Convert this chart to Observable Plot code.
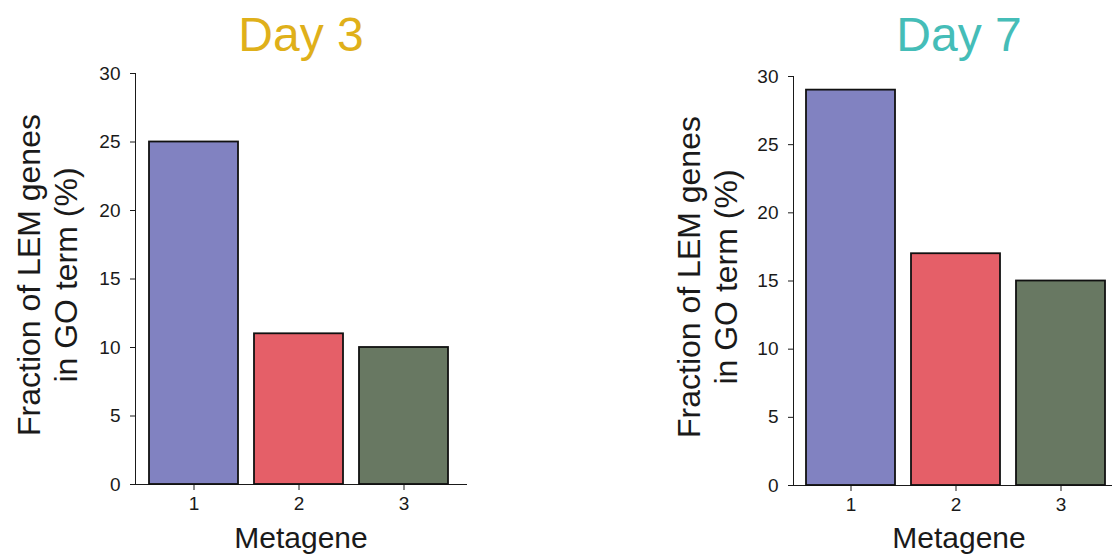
<!DOCTYPE html>
<html><head><meta charset="utf-8">
<script src="https://cdn.jsdelivr.net/npm/d3@7"></script>
<script src="https://cdn.jsdelivr.net/npm/@observablehq/plot@0.6"></script>
<style>
html,body{margin:0;padding:0;background:#fff;overflow:hidden;}
#wrap{position:relative;width:1112px;height:556px;overflow:hidden;}
.panel{position:absolute;top:0;}
.panel svg{max-width:none !important;}
</style></head><body>
<div id="wrap"><div class="panel" id="p1" style="left:0;width:556px"></div><div class="panel" id="p2" style="left:556px;width:600px"></div></div>
<script>
const metagenes = ["1", "2", "3"];
const day3Values = [25, 11, 10];
const day7Values = [29, 17, 15];
const barColors = ["#8182C1", "#E55F68", "#687862"];
const yTicks = [0, 5, 10, 15, 20, 25, 30];
const panelTitles = ["Day 3", "Day 7"];
const titleColors = ["#DFB01A", "#45BDB8"];
const yLabel = "Fraction of LEM genes\nin GO term (%)";
const xLabel = "Metagene";

function panel({values, title, titleColor, width, marginLeft, marginRight, marginTop, marginBottom, align, titleDy, yLabelDx, xLabelDy}) {
  const data = metagenes.map((m, i) => ({m, v: values[i]}));
  return Plot.plot({
    width, height: 556, marginLeft, marginRight, marginTop, marginBottom,
    style: {fontFamily: "'Liberation Sans', Arial, sans-serif", fontSize: "19px", color: "#1a1a1a", background: "#fff", overflow: "visible", maxWidth: "none"},
    x: {domain: metagenes, paddingInner: 0.15, paddingOuter: 0.137, align, label: null, tickSize: 6, tickPadding: 6, line: true},
    y: {domain: [0, 30], ticks: yTicks, tickSize: 5, tickPadding: 10, label: null, line: true},
    color: {domain: metagenes, range: barColors},
    marks: [
      Plot.barY(data, {x: "m", y: "v", fill: "m", stroke: "#111", strokeWidth: 1.8}),
      Plot.text([title], {text: d => d, frameAnchor: "top", lineAnchor: "middle", dy: titleDy, fontSize: 48, fill: titleColor}),
      Plot.text([yLabel], {text: d => d, frameAnchor: "left", lineAnchor: "middle", dx: yLabelDx, dy: -4, rotate: -90, fontSize: 32, lineHeight: 1.15, textAnchor: "middle", fill: "#1a1a1a"}),
      Plot.text([xLabel], {text: d => d, frameAnchor: "bottom", lineAnchor: "middle", dy: xLabelDy, fontSize: 30, fill: "#1a1a1a"})
    ]
  });
}

document.getElementById("p1").appendChild(panel({
  values: day3Values, title: panelTitles[0], titleColor: titleColors[0],
  width: 556, marginLeft: 135, marginRight: 90, marginTop: 73, marginBottom: 72, align: 0.45,
  titleDy: -38, yLabelDx: -89, xLabelDy: 54
}));
document.getElementById("p2").appendChild(panel({
  values: day7Values, title: panelTitles[1], titleColor: titleColors[1],
  width: 600, marginLeft: 237, marginRight: 32, marginTop: 76, marginBottom: 71, align: 0.4,
  titleDy: -41, yLabelDx: -87, xLabelDy: 53
}));
</script>
</body></html>
